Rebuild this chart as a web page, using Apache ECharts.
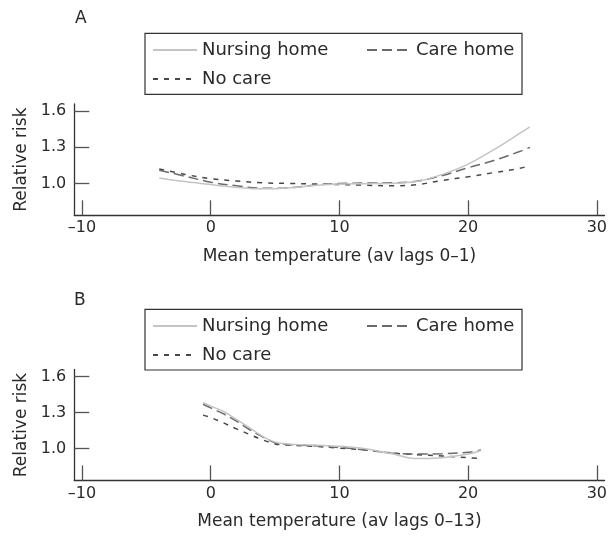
<!DOCTYPE html>
<html><head><meta charset="utf-8">
<script src="https://cdn.jsdelivr.net/npm/echarts@6/dist/echarts.min.js"></script>
<style>html,body{margin:0;padding:0;background:#fff}#c{width:610px;height:536px}</style>
</head><body><div id="c"></div>
<script>
// Panel A: mean temperature (av lags 0-1)
const tempA = [-4, -2, 0, 2, 4, 6, 8, 10, 12, 14, 16, 18, 20, 22, 24, 24.8];
const nursingA = [1.045, 1.015, 0.99, 0.968, 0.955, 0.962, 0.982, 0.995, 0.998, 1.0, 1.015, 1.075, 1.16, 1.28, 1.415, 1.47];
const careA    = [1.11, 1.06, 1.01, 0.98, 0.96, 0.963, 0.985, 1.0, 1.003, 1.005, 1.018, 1.065, 1.13, 1.19, 1.265, 1.30];
const noCareA  = [1.12, 1.075, 1.04, 1.02, 1.005, 1.0, 0.995, 0.99, 0.985, 0.98, 0.99, 1.025, 1.055, 1.09, 1.125, 1.148];
// Panel B: mean temperature (av lags 0-13)
const tempB = [-0.6, 0, 1, 2, 3, 4, 5, 6, 8, 10, 12, 14, 16, 18, 20, 21];
const nursingB = [1.385, 1.355, 1.31, 1.245, 1.175, 1.105, 1.055, 1.04, 1.03, 1.02, 1.0, 0.96, 0.918, 0.925, 0.955, 0.985];
const careB    = [1.37, 1.34, 1.29, 1.23, 1.16, 1.1, 1.05, 1.035, 1.025, 1.01, 0.99, 0.965, 0.955, 0.958, 0.97, 0.99];
const noCareB  = [1.28, 1.26, 1.215, 1.165, 1.12, 1.075, 1.04, 1.03, 1.02, 1.005, 0.99, 0.965, 0.95, 0.94, 0.925, 0.918];
const xTicks = [-10, 0, 10, 20, 30];
const yTicks = [1.0, 1.3, 1.6];
const names = ['Nursing home', 'Care home', 'No care'];

const FONT = 'DejaVu Sans';
const TXT = '#2a2a2a';
const zip = (xs, ys) => xs.map((x, i) => [x, ys[i]]);
const styles = [
  {color: '#c4c4c4', width: 1.5, type: 'solid'},
  {color: '#6a6a6a', width: 1.5, type: [10, 5]},
  {color: '#474747', width: 1.5, type: [5, 6]}
];

function xAxis(idx, title) {
  return {
    type: 'value', gridIndex: idx, min: -10.6, max: 30.6,
    splitLine: {show: false},
    axisLine: {onZero: false, lineStyle: {color: '#333', width: 1.3}},
    axisTick: {inside: true, length: 15, customValues: xTicks, lineStyle: {color: '#555', width: 1.3}},
    axisLabel: {customValues: xTicks, margin: 5, color: TXT, fontFamily: FONT, fontSize: 16,
      formatter: v => String(v).replace('-', '\u2013')},
    name: title, nameLocation: 'middle', nameGap: 33,
    nameTextStyle: {color: TXT, fontFamily: FONT, fontSize: 17}
  };
}
function yAxis(idx) {
  return {
    type: 'value', gridIndex: idx, min: 0.735, max: 1.66,
    splitLine: {show: false},
    axisLine: {show: true, onZero: false, lineStyle: {color: '#333', width: 1.3}},
    axisTick: {show: true, inside: true, length: 15, customValues: yTicks, lineStyle: {color: '#555', width: 1.3}},
    axisLabel: {customValues: yTicks, margin: 8, color: TXT, fontFamily: FONT, fontSize: 16,
      formatter: v => v.toFixed(1)},
    name: 'Relative risk', nameLocation: 'middle', nameGap: 44,
    nameTextStyle: {color: TXT, fontFamily: FONT, fontSize: 17}
  };
}
function series(idx, xs, arrs) {
  return arrs.map((ys, i) => ({
    type: 'line', name: names[i], xAxisIndex: idx, yAxisIndex: idx,
    data: zip(xs, ys), smooth: 0.35, symbol: 'none', showSymbol: false,
    lineStyle: styles[i], itemStyle: {color: styles[i].color, opacity: 0},
    emphasis: {disabled: true}, z: 3 - i
  }));
}
function legend(name, left, top) {
  return {
    data: [name], left: left, top: top, padding: 0, itemWidth: 44, itemHeight: 14, itemGap: 0,
    itemTextGap: 9, selectedMode: false, itemStyle: {opacity: 0},
    textStyle: {color: TXT, fontFamily: FONT, fontSize: 18, lineHeight: 20}
  };
}

const chart = echarts.init(document.getElementById('c'), null, {renderer: 'canvas'});
chart.setOption({
  animation: false,
  backgroundColor: '#fff',
  title: [
    {text: 'A', left: 75, top: 10, padding: 0, textStyle: {color: TXT, fontFamily: FONT, fontSize: 17, fontWeight: 'normal'}},
    {text: 'B', left: 74, top: 292, padding: 0, textStyle: {color: TXT, fontFamily: FONT, fontSize: 17, fontWeight: 'normal'}}
  ],
  grid: [
    {left: 74.3, right: 4.6, top: 104, height: 111.3},
    {left: 74.3, right: 4.6, top: 369.5, height: 111}
  ],
  xAxis: [xAxis(0, 'Mean temperature (av lags 0\u20131)'), xAxis(1, 'Mean temperature (av lags 0\u201313)')],
  yAxis: [yAxis(0), yAxis(1)],
  legend: [
    legend('Nursing home', 152, 40), legend('Care home', 366, 40), legend('No care', 152, 69),
    legend('Nursing home', 152, 316), legend('Care home', 366, 316), legend('No care', 152, 345)
  ],
  graphic: [
    {type: 'rect', shape: {x: 145, y: 33.3, width: 377, height: 61}, style: {fill: 'none', stroke: '#333', lineWidth: 1.2}},
    {type: 'rect', shape: {x: 145, y: 309.3, width: 377, height: 60.7}, style: {fill: 'none', stroke: '#333', lineWidth: 1.2}}
  ],
  series: [].concat(series(0, tempA, [nursingA, careA, noCareA]), series(1, tempB, [nursingB, careB, noCareB]))
});
</script></body></html>
